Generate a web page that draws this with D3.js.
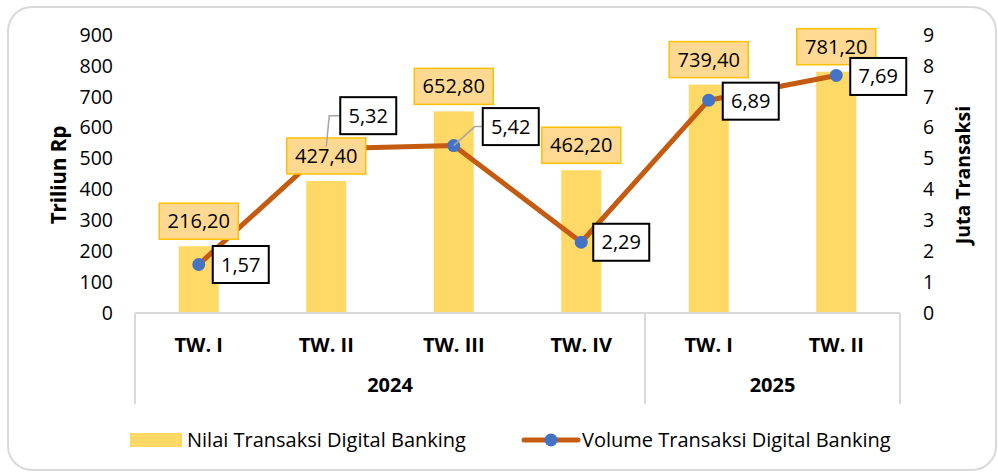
<!DOCTYPE html>
<html>
<head>
<meta charset="utf-8">
<script src="https://cdn.jsdelivr.net/npm/d3@7/dist/d3.min.js"></script>
<style>
  html, body { margin: 0; padding: 0; background: #fff; }
  svg { display: block; font-family: "Open Sans", "Noto Sans", sans-serif; }
</style>
</head>
<body>
<svg id="chart" width="998" height="473"></svg>
<script>
// Quarterly digital banking transactions
const quarters = ["TW. I", "TW. II", "TW. III", "TW. IV", "TW. I", "TW. II"];
const years = ["2024", "2024", "2024", "2024", "2025", "2025"];
const nilai = [216.20, 427.40, 652.80, 462.20, 739.40, 781.20];   // Triliun Rp
const volume = [1.57, 5.32, 5.42, 2.29, 6.89, 7.69];              // Juta Transaksi
const leftTicks = [0, 100, 200, 300, 400, 500, 600, 700, 800, 900];
const rightTicks = [0, 1, 2, 3, 4, 5, 6, 7, 8, 9];

const fmt = v => v.toFixed(2).replace(".", ",");

const svg = d3.select("#chart");
const plot = { left: 135, right: 900, top: 35, bottom: 313 };

// outer frame
svg.append("rect")
  .attr("x", 8).attr("y", 7).attr("width", 988).attr("height", 463)
  .attr("rx", 24).attr("ry", 24)
  .attr("fill", "#fff").attr("stroke", "#d9d9d9").attr("stroke-width", 2);

const idx = d3.range(quarters.length);
const x = d3.scaleBand().domain(idx).range([plot.left, plot.right]).paddingInner(0.686).paddingOuter(0.343);
const bandStep = (plot.right - plot.left) / quarters.length;
const xc = i => plot.left + (i + 0.5) * bandStep;
const yL = d3.scaleLinear().domain([0, 900]).range([plot.bottom, plot.top]);
const yR = d3.scaleLinear().domain([0, 9]).range([plot.bottom, plot.top]);

// left axis
const gL = svg.append("g").attr("transform", `translate(${plot.left - 22},0)`)
  .call(d3.axisLeft(yL).tickValues(leftTicks).tickSize(0).tickPadding(0).tickFormat(d3.format("d")));
gL.select(".domain").remove();
gL.selectAll("text").attr("font-size", 19.5).attr("fill", "#000").attr("font-family", "Open Sans");

// right axis
const gR = svg.append("g").attr("transform", `translate(${plot.right + 23},0)`)
  .call(d3.axisRight(yR).tickValues(rightTicks).tickSize(0).tickPadding(0).tickFormat(d3.format("d")));
gR.select(".domain").remove();
gR.selectAll("text").attr("font-size", 19.5).attr("fill", "#000").attr("font-family", "Open Sans");

// axis titles
svg.append("text").attr("transform", "translate(66,175) rotate(-90)")
  .attr("text-anchor", "middle").attr("font-size", 20.5).attr("font-weight", "bold").text("Triliun Rp");
svg.append("text").attr("transform", "translate(970,175) rotate(-90)")
  .attr("text-anchor", "middle").attr("font-size", 19.5).attr("font-weight", "bold").text("Juta Transaksi");

// bars
svg.append("g").selectAll("rect").data(idx).join("rect")
  .attr("x", i => xc(i) - x.bandwidth() / 2)
  .attr("width", x.bandwidth())
  .attr("y", i => yL(nilai[i]))
  .attr("height", i => yL(0) - yL(nilai[i]))
  .attr("fill", "#ffd966");

// category axis frame
const axisG = svg.append("g").attr("stroke", "#d9d9d9").attr("stroke-width", 2);
axisG.append("line").attr("x1", plot.left).attr("x2", plot.right).attr("y1", plot.bottom).attr("y2", plot.bottom);
const yearGroups = d3.groups(idx, i => years[i]);
const bounds = [plot.left];
yearGroups.forEach(([, arr]) => bounds.push(plot.left + (arr[arr.length - 1] + 1) * bandStep));
bounds.forEach(bx => axisG.append("line").attr("x1", bx).attr("x2", bx).attr("y1", plot.bottom).attr("y2", 404));

svg.append("g").selectAll("text").data(idx).join("text")
  .attr("x", i => xc(i)).attr("y", 352)
  .attr("text-anchor", "middle").attr("font-size", 20).attr("font-weight", "bold")
  .text(i => quarters[i]);

svg.append("g").selectAll("text").data(yearGroups).join("text")
  .attr("x", ([, arr]) => plot.left + (arr[0] + arr[arr.length - 1] + 1) / 2 * bandStep)
  .attr("y", 392)
  .attr("text-anchor", "middle").attr("font-size", 20).attr("font-weight", "bold")
  .text(([y]) => y);

// volume line and markers
const line = d3.line().x(i => xc(i)).y(i => yR(volume[i]));
svg.append("path").datum(idx).attr("d", line)
  .attr("fill", "none").attr("stroke", "#c55a11").attr("stroke-width", 5).attr("stroke-linejoin", "round");

svg.append("g").selectAll("circle").data(idx).join("circle")
  .attr("cx", i => xc(i)).attr("cy", i => yR(volume[i])).attr("r", 6.5)
  .attr("fill", "#4472c4");

// bar value labels (drawn over the line)
const barLab = svg.append("g").selectAll("g").data(idx).join("g")
  .attr("transform", i => `translate(${xc(i)},${yL(nilai[i]) - 7})`);
barLab.append("rect").attr("x", -39.5).attr("y", -36).attr("width", 79).attr("height", 36)
  .attr("fill", "#ffd992").attr("stroke", "#ffc000").attr("stroke-width", 1.5);
barLab.append("text").attr("x", 0).attr("y", -11).attr("text-anchor", "middle")
  .attr("font-size", 20).attr("fill", "#000").text(i => fmt(nilai[i]));

// label positions for the line values (offset of box left / centre from the point)
const volOffsets = [[14, 0], [14, -33], [29, -19], [12, 0], [14, 1], [14, 1]];

// leader lines for shifted labels
idx.forEach(i => {
  const [dx, dy] = volOffsets[i];
  if (dy < -5) {
    const px = xc(i), py = yR(volume[i]);
    const bx = px + dx, by = py + dy;
    const pts = i === 1
      ? `${bx},${by} ${px + 3},${by} ${px},${py - 2}`
      : `${px},${py} ${bx - 8},${by} ${bx},${by}`;
    svg.append("polyline").attr("points", pts)
      .attr("fill", "none").attr("stroke", "#a6a6a6").attr("stroke-width", 1.5);
  }
});

const volLab = svg.append("g").selectAll("g").data(idx).join("g")
  .attr("transform", i => `translate(${xc(i) + volOffsets[i][0]},${yR(volume[i]) + volOffsets[i][1]})`);
volLab.append("rect").attr("x", 0).attr("y", -18.5).attr("width", 56).attr("height", 37)
  .attr("fill", "#fff").attr("stroke", "#000").attr("stroke-width", 2);
volLab.append("text").attr("x", 28).attr("y", 7).attr("text-anchor", "middle")
  .attr("font-size", 20).attr("fill", "#000").text(i => fmt(volume[i]));

// legend
const leg = svg.append("g");
leg.append("rect").attr("x", 130).attr("y", 433).attr("width", 52).attr("height", 14).attr("fill", "#ffd966");
leg.append("text").attr("x", 187).attr("y", 447).attr("font-size", 20).text("Nilai Transaksi Digital Banking");
leg.append("line").attr("x1", 524).attr("x2", 578).attr("y1", 440).attr("y2", 440)
  .attr("stroke", "#c55a11").attr("stroke-width", 5).attr("stroke-linecap", "round");
leg.append("circle").attr("cx", 551).attr("cy", 440).attr("r", 6.5).attr("fill", "#4472c4");
leg.append("text").attr("x", 582).attr("y", 447).attr("font-size", 20).text("Volume Transaksi Digital Banking");
</script>
</body>
</html>
